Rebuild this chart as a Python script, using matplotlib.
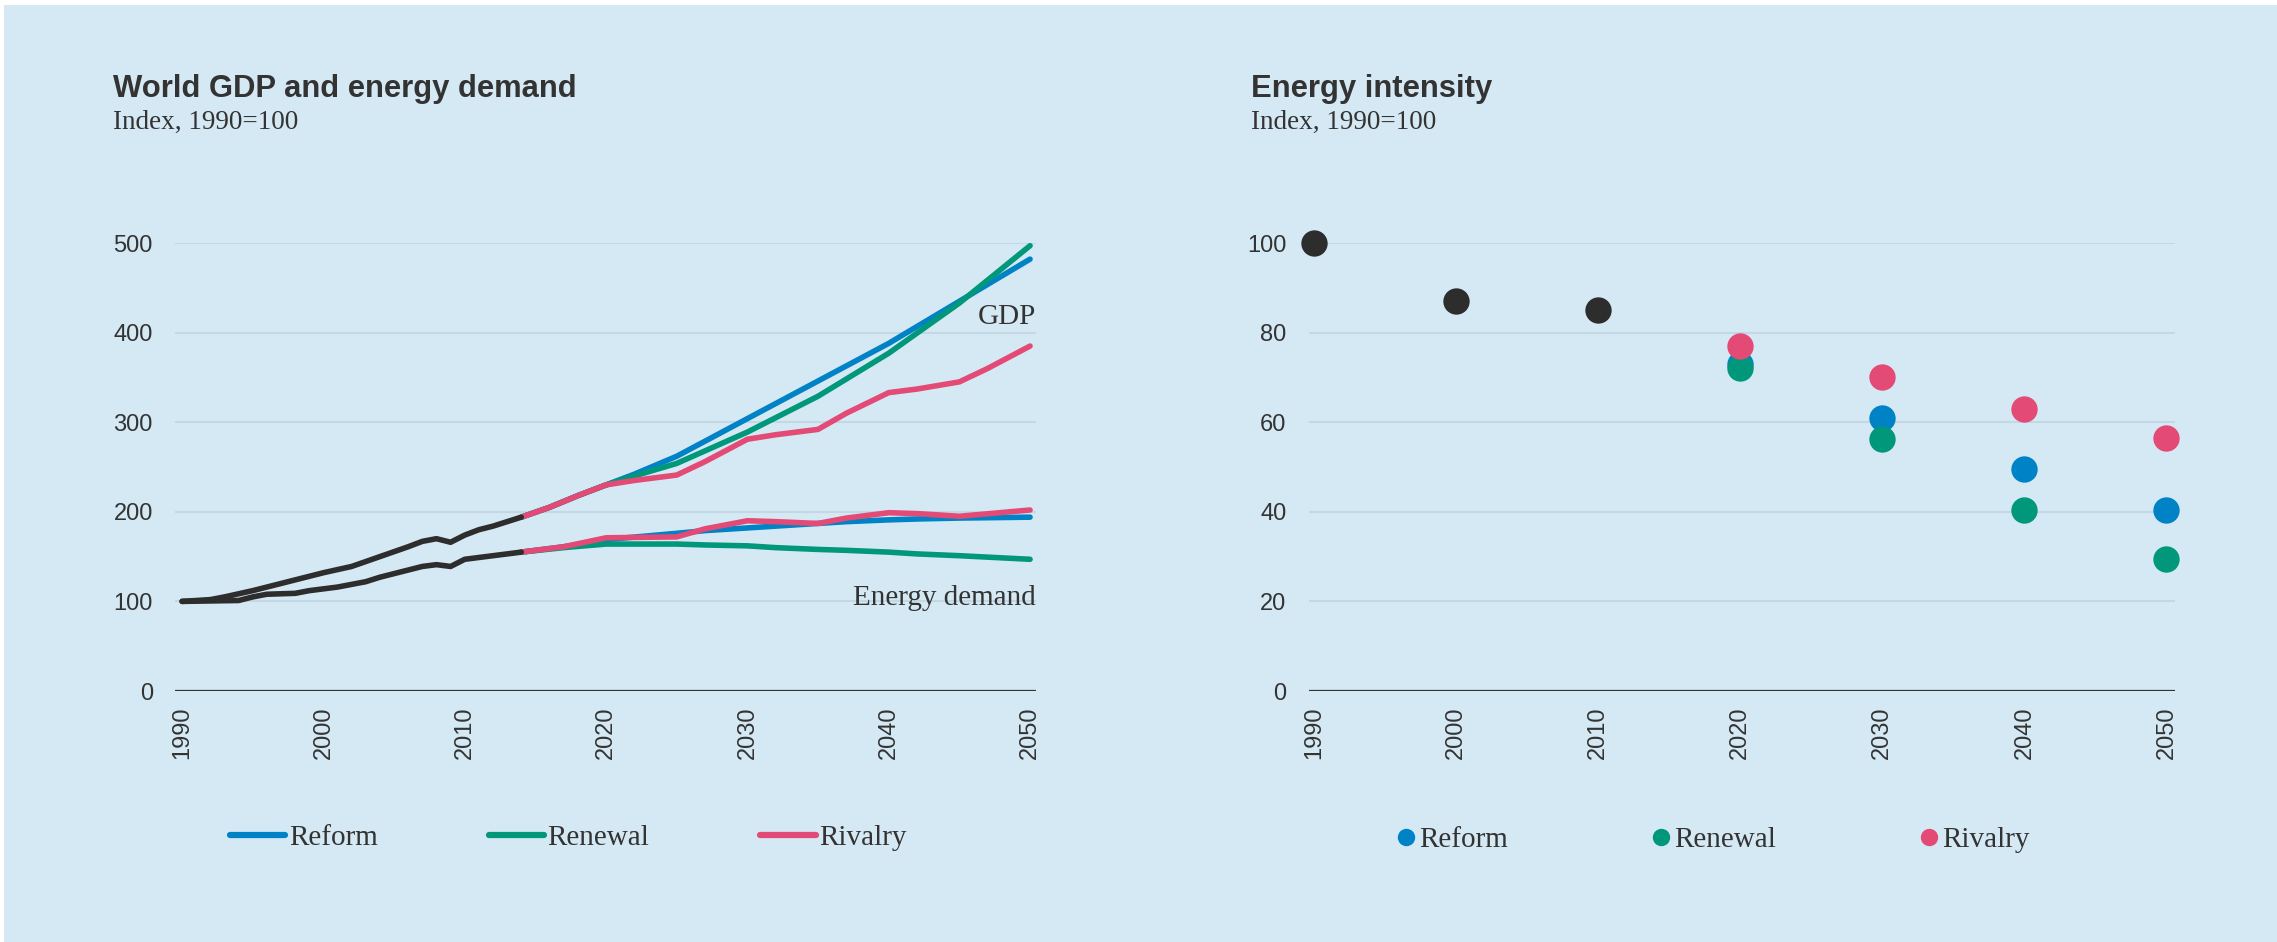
import matplotlib.pyplot as plt
from matplotlib.lines import Line2D
from matplotlib.patches import Rectangle

# --- data: world GDP and energy demand, index 1990=100 ---
hist_gdp_years = [1990, 1992, 1993, 1995, 1997, 2000, 2002, 2004, 2006, 2007, 2008, 2009, 2010, 2011, 2012, 2013, 2014]
hist_gdp = [100, 102, 105, 112, 120, 132, 139, 150, 161, 167, 170, 166, 174, 180, 184, 189, 194]

hist_energy_years = [1990, 1992, 1994, 1995, 1996, 1998, 1999, 2001, 2003, 2004, 2005, 2006, 2007, 2008, 2009, 2010, 2011, 2012, 2013, 2014]
hist_energy = [100, 100.5, 101, 105, 108, 109, 112, 116, 122, 127, 131, 135, 139, 141, 139, 147, 149, 151, 153, 155]

gdp_years = [2014, 2016, 2018, 2020, 2022, 2025, 2030, 2035, 2040, 2045, 2050]
gdp_reform = [194, 205, 218, 230, 242, 262, 304, 346, 388, 435, 482]
gdp_renewal = [194, 205, 218, 230, 240, 254, 289, 329, 377, 433, 497]

gdp_riv_years = [2014, 2016, 2018, 2020, 2022, 2025, 2027, 2030, 2032, 2035, 2037, 2040, 2042, 2045, 2047, 2050]
gdp_rivalry = [194, 205, 218, 230, 235, 241, 256, 281, 286, 292, 310, 333, 337, 345, 360, 385]

energy_years = [2014, 2017, 2020, 2025, 2027, 2030, 2032, 2035, 2037, 2040, 2042, 2045, 2050]
energy_reform = [155, 161, 169, 176, 179, 182, 184, 187, 189, 191, 192, 193, 194]
energy_renewal = [155, 160, 164, 164, 163, 162, 160, 158, 157, 155, 153, 151, 147]
energy_rivalry = [155, 161, 171, 172, 181, 190, 189, 187, 193, 199, 198, 195, 202]

# --- data: energy intensity ---
int_hist_years = [1990, 2000, 2010]
int_hist = [100, 87, 85]
int_years = [2020, 2030, 2040, 2050]
int_reform = [73, 61, 49.5, 40.5]
int_renewal = [72, 56.3, 40.4, 29.5]
int_rivalry = [77, 70, 63, 56.5]

scenarios = ["Reform", "Renewal", "Rivalry"]
colors = ["#0082c6", "#00977a", "#e34a75"]
black = "#2d2d2d"
bg = "#d5e9f4"
grid_c = "#c3d7e4"
text_c = "#333333"

W, H = 2277, 942
fig = plt.figure(figsize=(W / 100, H / 100), dpi=100, facecolor="white")
fig.patches.append(Rectangle((4 / W, 0), 1, 1 - 5 / H, transform=fig.transFigure,
                             facecolor=bg, edgecolor="none", zorder=-10))

serif = {"family": "Liberation Serif", "size": 21, "color": text_c}
tick_font = "Liberation Sans"

ax1 = fig.add_axes([175 / W, 1 - 691 / H, 861 / W, 448 / H])
ax2 = fig.add_axes([1308.7 / W, 1 - 691 / H, 866 / W, 448 / H])

for ax in (ax1, ax2):
    ax.set_facecolor("none")
    for s in ax.spines.values():
        s.set_visible(False)
    ax.set_xticks([1990, 2000, 2010, 2020, 2030, 2040, 2050])
    ax.tick_params(axis="both", length=0, labelsize=17, labelcolor=text_c)
    ax.tick_params(axis="x", rotation=90, pad=11)
    ax.tick_params(axis="y", pad=16)
    ax.grid(axis="y", color=grid_c, linewidth=1.5)
    ax.set_axisbelow(True)
    ax.axhline(0, color=text_c, linewidth=1.6, zorder=2)

# left panel
lw = 4.0
ax1.set_xlim(1989.5, 2050.42)
ax1.set_ylim(0, 500)
ax1.set_yticks([0, 100, 200, 300, 400, 500])

ax1.plot(energy_years, energy_reform, color=colors[0], lw=lw, solid_capstyle="round", zorder=3)
ax1.plot(energy_years, energy_renewal, color=colors[1], lw=lw, solid_capstyle="round", zorder=3)
ax1.plot(energy_years, energy_rivalry, color=colors[2], lw=lw, solid_capstyle="round", zorder=4)
ax1.plot(gdp_years, gdp_reform, color=colors[0], lw=lw, solid_capstyle="round", zorder=3, clip_on=False)
ax1.plot(gdp_years, gdp_renewal, color=colors[1], lw=lw, solid_capstyle="round", zorder=3, clip_on=False)
ax1.plot(gdp_riv_years, gdp_rivalry, color=colors[2], lw=lw, solid_capstyle="round", zorder=4)
ax1.plot(hist_gdp_years, hist_gdp, color=black, lw=lw, solid_capstyle="round", zorder=5)
ax1.plot(hist_energy_years, hist_energy, color=black, lw=lw, solid_capstyle="round", zorder=5)

ax1.text(2050.4, 410, "GDP", ha="right", va="baseline", fontdict=serif)
ax1.text(2050.4, 96, "Energy demand", ha="right", va="baseline", fontdict=serif)

for ax in (ax1, ax2):
    for lab in ax.get_xticklabels() + ax.get_yticklabels():
        lab.set_fontfamily(tick_font)

line_handles = [Line2D([], [], color=c, lw=4.5, solid_capstyle="round") for c in colors]
ax1.legend(line_handles, scenarios, loc="center left",
           bbox_to_anchor=(230 / W, 1 - 838 / H), bbox_transform=fig.transFigure,
           ncol=3, frameon=False, handlelength=1.9, handletextpad=0.12,
           columnspacing=3.8, borderpad=0, borderaxespad=0,
           prop={"family": "Liberation Serif", "size": 21}, labelcolor=text_c)

# right panel
ax2.set_xlim(1989.63, 2050.58)
ax2.set_ylim(0, 100)
ax2.set_yticks([0, 20, 40, 60, 80, 100])
for lab in ax2.get_yticklabels():
    lab.set_fontfamily(tick_font)

ms = 360
ax2.scatter(int_hist_years, int_hist, s=ms, color=black, zorder=3, clip_on=False, linewidths=0)
ax2.scatter(int_years, int_reform, s=ms, color=colors[0], zorder=3, clip_on=False, linewidths=0)
ax2.scatter(int_years, int_renewal, s=ms, color=colors[1], zorder=4, clip_on=False, linewidths=0)
ax2.scatter(int_years, int_rivalry, s=ms, color=colors[2], zorder=5, clip_on=False, linewidths=0)

dot_handles = [Line2D([], [], color=c, marker="o", linestyle="none", markersize=11.5) for c in colors]
ax2.legend(dot_handles, scenarios, loc="center left",
           bbox_to_anchor=(1397 / W, 1 - 840 / H), bbox_transform=fig.transFigure,
           ncol=3, frameon=False, handlelength=0.6, handletextpad=0.15,
           columnspacing=4.95, borderpad=0, borderaxespad=0,
           prop={"family": "Liberation Serif", "size": 21}, labelcolor=text_c)

# titles
title_kw = {"family": "Liberation Sans", "weight": "bold", "size": 22.3, "color": text_c}
sub_kw = {"family": "Liberation Serif", "size": 19.5, "color": text_c}
fig.text(113 / W, 1 - 97 / H, "World GDP and energy demand", ha="left", va="baseline", **title_kw)
fig.text(113 / W, 1 - 129 / H, "Index, 1990=100", ha="left", va="baseline", **sub_kw)
fig.text(1251 / W, 1 - 97 / H, "Energy intensity", ha="left", va="baseline", **title_kw)
fig.text(1251 / W, 1 - 129 / H, "Index, 1990=100", ha="left", va="baseline", **sub_kw)

fig.savefig("out.png", dpi=100, facecolor=fig.get_facecolor())
